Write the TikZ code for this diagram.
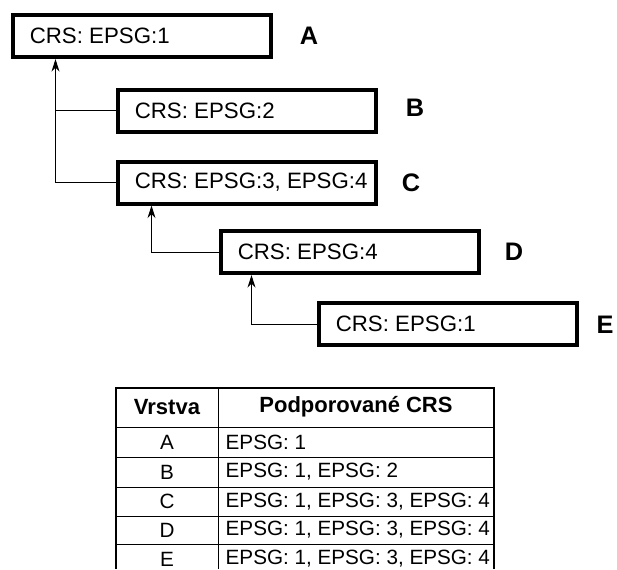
\documentclass[tikz,border=0pt]{standalone}
\usepackage{fontspec}
\setmainfont{Liberation Sans}
\usetikzlibrary{arrows.meta,calc}

\begin{document}
\begin{tikzpicture}[x=0.75pt,y=-0.75pt,>={Stealth[length=9.5pt,width=6pt]},
  crs/.style={draw,line width=3pt,minimum height=31.5pt,inner xsep=13pt,font=\fontsize{16.7}{19}\selectfont,
    execute at begin node={\hbox to 167.5pt\bgroup},execute at end node={\hss\egroup}},
  tag/.style={font=\fontsize{19}{22}\selectfont\bfseries},
  link/.style={->,line width=0.75pt},
  head/.style={font=\fontsize{16.5}{20}\selectfont\bfseries},
  cell/.style={font=\fontsize{15.5}{18}\selectfont}]

\useasboundingbox (0,0) rectangle (617,569);

% layer boxes
\node[crs] (boxA) at (141.5,36)  {CRS: EPSG:1};
\node[crs] (boxB) at (246.5,110.5) {CRS: EPSG:2};
\node[crs] (boxC) at (246.5,182.5) {CRS: EPSG:3, EPSG:4};
\node[crs] (boxD) at (349.5,252) {CRS: EPSG:4};
\node[crs] (boxE) at (447.5,324) {CRS: EPSG:1};

\node[tag] (tagA) at (309,36)  {A};
\node[tag] (tagB) at (415,108) {B};
\node[tag] (tagC) at (411,183) {C};
\node[tag] (tagD) at (514,252) {D};
\node[tag] (tagE) at (605,325) {E};

% parent links
\coordinate (tapA) at ($(boxA.south west)+(45,0)$);
\coordinate (tapC) at ($(boxC.south west)+(36,0)$);
\coordinate (tapD) at ($(boxD.south west)+(33,0)$);
\draw[link] (boxC.west) -| (tapA);
\draw[line width=0.75pt] (boxB.west) -- (boxB.west -| tapA);
\draw[link] (boxD.west) -| (tapC);
\draw[link] (boxE.west) -| (tapD);

% table of supported CRS
\draw[line width=1.5pt] (116,569) |- (494,388) -- (494,569);
\draw[line width=0.75pt] (218,388) -- (218,569);
\foreach \y in {427,457.5,487,516,544.5}
  \draw[line width=0.75pt] (116,\y) -- (494,\y);

\node[head] (hLayer) at (167,407) {Vrstva};
\node[head] (hList) at (356,407) {Podporované CRS};

\foreach \name/\list/\y in {A/{EPSG: 1}/442,B/{EPSG: 1, EPSG: 2}/472,C/{EPSG: 1, EPSG: 3, EPSG: 4}/501.5,D/{EPSG: 1, EPSG: 3, EPSG: 4}/530,E/{EPSG: 1, EPSG: 3, EPSG: 4}/559}{
  \node[cell] (row\name) at (167,\y) {\name};
  \node[cell,anchor=west] (list\name) at (221,\y) {\list};
}

\end{tikzpicture}
\end{document}
